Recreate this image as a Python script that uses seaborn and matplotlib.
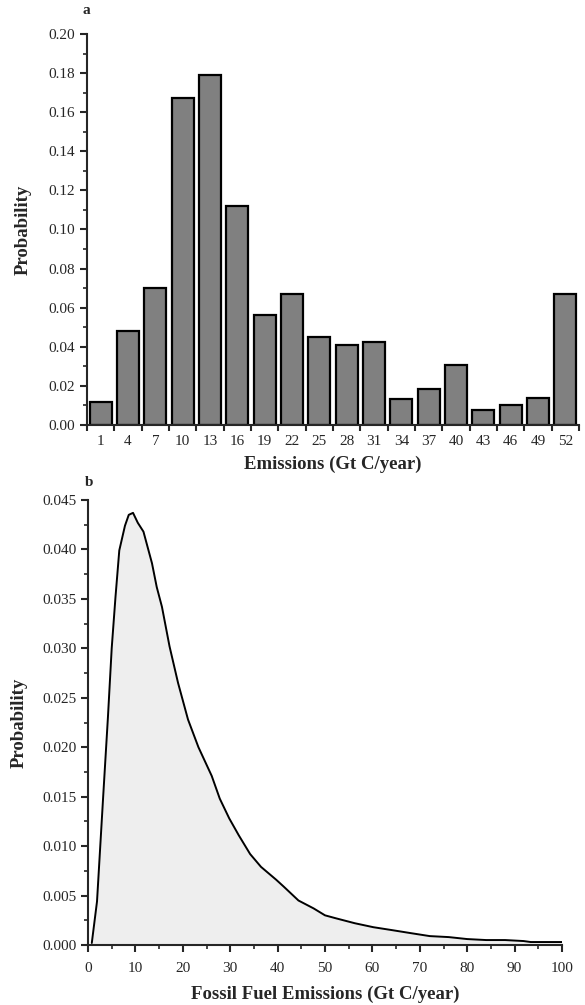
import numpy as np
import pandas as pd
import matplotlib
matplotlib.use('Agg')
import matplotlib.pyplot as plt
import seaborn as sns
from matplotlib.ticker import MultipleLocator, FormatStrFormatter

# panel a - binned emissions probability
bins_a = ['1', '4', '7', '10', '13', '16', '19', '22', '25', '28', '31',
          '34', '37', '40', '43', '46', '49', '52']
prob_a = [0.0118, 0.0483, 0.0700, 0.1675, 0.1790, 0.1120, 0.0562, 0.0670,
          0.0452, 0.0407, 0.0422, 0.0133, 0.0184, 0.0305, 0.0079, 0.0103,
          0.0140, 0.0670]

# panel b - fossil fuel emissions distribution
emis_b = [0.8, 1.9, 3.2, 4.2, 5.0, 5.8, 6.6, 7.8, 8.6, 9.5, 10.5, 11.7, 13.5,
          14.5, 15.6, 17.2, 19.0, 21.1, 23.3, 26.1, 27.8, 29.8, 31.8, 34.2,
          36.5, 39.7, 41.3, 44.4, 47.6, 50.0, 52.3, 56.3, 60.2, 64.2, 68.1,
          72.1, 76.1, 80.0, 84.0, 88.0, 91.9, 93.4, 100.0]
prob_b = [0.0002, 0.0044, 0.0150, 0.0230, 0.0300, 0.0352, 0.0399, 0.0424,
          0.0435, 0.0437, 0.0427, 0.0418, 0.0386, 0.0362, 0.0342, 0.0302,
          0.0265, 0.0228, 0.0200, 0.0171, 0.0148, 0.0128, 0.0111, 0.0092,
          0.0079, 0.0066, 0.0059, 0.0045, 0.0037, 0.0030, 0.0027, 0.0022,
          0.0018, 0.0015, 0.0012, 0.0009, 0.0008, 0.0006, 0.0005, 0.0005,
          0.0004, 0.0003, 0.0003]

sns.set_style('ticks')
plt.rcParams['font.family'] = ['Liberation Serif', 'DejaVu Serif']
plt.rcParams['axes.linewidth'] = 1.5

W, H = 585, 1005
fig = plt.figure(figsize=(W / 100, H / 100), dpi=100)

# ---- a
ax1 = fig.add_axes([87 / W, 1 - 425 / H, (579 - 87) / W, (425 - 34) / H])
df_a = pd.DataFrame({'bin': bins_a, 'prob': prob_a})
sns.barplot(data=df_a, x='bin', y='prob', color='#808080', saturation=1,
            edgecolor='black', linewidth=1.6, width=0.8, ax=ax1)
ax1.set_xlim(-0.5, 17.5)
ax1.set_ylim(0, 0.20)
ax1.yaxis.set_major_locator(MultipleLocator(0.02))
ax1.yaxis.set_minor_locator(MultipleLocator(0.01))
ax1.yaxis.set_major_formatter(FormatStrFormatter('%.2f'))
ax1.set_xticks(np.arange(len(bins_a) + 1) - 0.5, minor=True)
ax1.tick_params(axis='x', which='major', length=0, labelsize=11, pad=7)
ax1.tick_params(axis='x', which='minor', length=4, width=1.5, direction='out')
ax1.tick_params(axis='y', which='major', length=5, width=1.5, labelsize=11)
ax1.tick_params(axis='y', which='minor', length=3, width=1.2)
ax1.set_xlabel('Emissions (Gt C/year)', fontsize=13.5, fontweight='bold', labelpad=6)
ax1.set_ylabel('Probability', fontsize=13.5, fontweight='bold', labelpad=12)
sns.despine(ax=ax1)

# ---- b
ax2 = fig.add_axes([88 / W, 1 - 945 / H, (562 - 88) / W, (945 - 500) / H])
df_b = pd.DataFrame({'emis': emis_b, 'prob': prob_b})
ax2.fill_between(df_b['emis'], df_b['prob'], 0, color='#eeeeee', lw=0)
sns.lineplot(data=df_b, x='emis', y='prob', color='black', linewidth=1.4, ax=ax2)
ax2.set_xlim(0, 100)
ax2.set_ylim(0, 0.045)
ax2.xaxis.set_major_locator(MultipleLocator(10))
ax2.xaxis.set_minor_locator(MultipleLocator(5))
ax2.yaxis.set_major_locator(MultipleLocator(0.005))
ax2.yaxis.set_minor_locator(MultipleLocator(0.0025))
ax2.yaxis.set_major_formatter(FormatStrFormatter('%.3f'))
ax2.tick_params(which='major', length=5, width=1.5, labelsize=11)
ax2.tick_params(which='minor', length=3, width=1.2)
ax2.tick_params(axis='x', pad=7)
ax2.set_xlabel('Fossil Fuel Emissions (Gt C/year)', fontsize=13.5,
               fontweight='bold', labelpad=8)
ax2.set_ylabel('Probability', fontsize=13.5, fontweight='bold', labelpad=10)
sns.despine(ax=ax2)

# panel letters
fig.text(86 / W, 1 - 10 / H, 'a', fontsize=11, fontweight='bold',
         ha='center', va='center')
fig.text(89 / W, 1 - 483 / H, 'b', fontsize=11, fontweight='bold',
         ha='center', va='center')

fig.savefig('out.png', dpi=100)
